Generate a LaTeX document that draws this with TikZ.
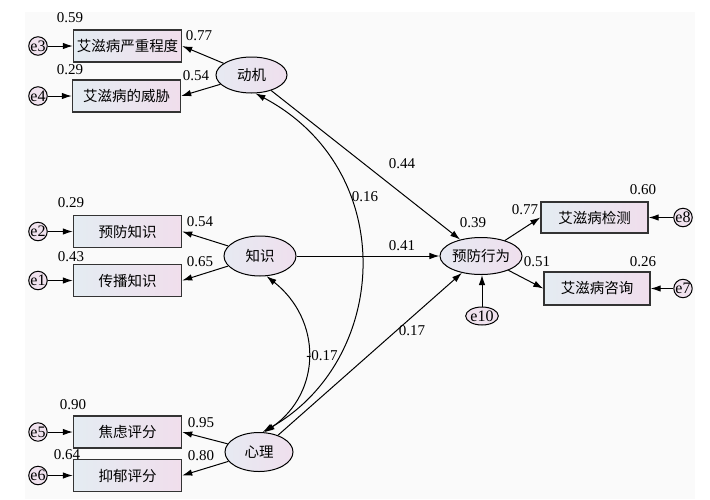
\documentclass[tikz,border=0pt]{standalone}
\usepackage{fontspec}
\setmainfont{Liberation Serif}
\newfontfamily\cjk{Noto Sans CJK SC}
\usetikzlibrary{arrows.meta,shapes.geometric}
\definecolor{bgc}{RGB}{250,250,250}
\definecolor{boxl}{RGB}{228,236,242}
\definecolor{boxr}{RGB}{240,222,236}
\definecolor{ell}{RGB}{236,228,242}
\definecolor{errc}{RGB}{240,226,238}
\begin{document}
\begin{tikzpicture}[x=1pt,y=-1pt,
  obs/.style={draw=black!80, line width=1.4pt, left color=boxl, right color=boxr,
    minimum width=108pt, minimum height=32pt, inner sep=0pt,
    font=\cjk\fontsize{14.5}{14.5}\selectfont},
  lat/.style={ellipse, draw, line width=1pt, left color=boxl!70!ell, right color=boxr!80!ell,
    inner sep=0pt, font=\cjk\fontsize{14.5}{14.5}\selectfont},
  err/.style={circle, draw, line width=1pt, fill=errc, minimum size=15pt, inner sep=0pt,
    font=\fontsize{16}{16}\selectfont},
  num/.style={inner sep=0pt, font=\fontsize{15}{15}\selectfont},
  arr/.style={-{Latex[length=10pt,width=6.5pt]}, line width=1pt},
  cov/.style={{Latex[length=10pt,width=6.5pt]}-{Latex[length=10pt,width=6.5pt]}, line width=1pt}]
\useasboundingbox (0,0) rectangle (710,499);
\fill[bgc] (25,12) rectangle (695,499);

% observed boxes
\node[obs] (b1) at (127.5,46) {艾滋病严重程度};
\node[obs] (b2) at (126.5,96) {艾滋病的威胁};
\node[obs] (k1) at (127.5,231.5) {预防知识};
\node[obs] (k2) at (127.5,280.5) {传播知识};
\node[obs] (p1) at (127.5,432) {焦虑评分};
\node[obs] (p2) at (127.5,475.5) {抑郁评分};
\node[obs, minimum width=107pt, minimum height=31pt] (r1) at (594.5,217.5) {艾滋病检测};
\node[obs, minimum width=106pt, minimum height=33pt] (r2) at (597,288.5) {艾滋病咨询};

% latent ellipses
\node[lat, minimum width=71pt, minimum height=36pt] (dj) at (251.5,75) {动机};
\node[lat, minimum width=72pt, minimum height=40pt] (zs) at (260,256) {知识};
\node[lat, minimum width=68pt, minimum height=39pt] (xl) at (259,452) {心理};
\node[lat, minimum width=68pt, minimum height=37pt] (yf) at (481,256) {预防行为};

% error terms
\node[err] (e3) at (38,46) {e3};
\node[err] (e4) at (38,96) {e4};
\node[err] (e2) at (38,231.5) {e2};
\node[err] (e1) at (38,280.5) {e1};
\node[err] (e5) at (38,432) {e5};
\node[err] (e6) at (38,475.5) {e6};
\node[err] (e8) at (683,217.5) {e8};
\node[err] (e7) at (683,288.5) {e7};
\node[err, ellipse, minimum width=23pt, minimum height=18pt] (e10) at (482,316) {e10};

% error arrows
\draw[arr] (e3) -- (b1);
\draw[arr] (e4) -- (b2);
\draw[arr] (e2) -- (k1);
\draw[arr] (e1) -- (k2);
\draw[arr] (e5) -- (p1);
\draw[arr] (e6) -- (p2);
\draw[arr] (e8) -- (r1);
\draw[arr] (e7) -- (r2);
\draw[arr] (e10) -- (e10 |- yf.south);

% loadings
\draw[arr] (dj) -- (b1.east);
\draw[arr] (dj) -- (b2.east);
\draw[arr] (zs) -- (k1.east);
\draw[arr] (zs) -- (k2.east);
\draw[arr] (xl) -- (p1.east);
\draw[arr] (xl) -- (p2.east);
\draw[arr] (yf) -- (r1.west);
\draw[arr] (yf) -- (r2.west);

% structural paths
\draw[arr] (dj) -- (yf);
\draw[arr] (zs) -- (yf);
\draw[arr] (xl) -- (yf);

% covariances
\draw[cov] (dj.-78) .. controls (400,170) and (390,360) .. (xl.80);
\draw[cov] (zs.-72) .. controls (322,320) and (322,392) .. (xl.74);

% numbers
\node[num] at (70,18) {0.59};
\node[num] at (199,36) {0.77};
\node[num] at (70,70) {0.29};
\node[num] at (196,76) {0.54};
\node[num] at (71,203) {0.29};
\node[num] at (200,222) {0.54};
\node[num] at (71,257) {0.43};
\node[num] at (200,262) {0.65};
\node[num] at (73,405) {0.90};
\node[num] at (201,423) {0.95};
\node[num] at (67,455) {0.64};
\node[num] at (201,456) {0.80};
\node[num] at (402,164) {0.44};
\node[num] at (365,197) {0.16};
\node[num] at (402,246) {0.41};
\node[num] at (322,356) {-0.17};
\node[num] at (412,331) {0.17};
\node[num] at (473,223) {0.39};
\node[num] at (525,210) {0.77};
\node[num] at (537,262) {0.51};
\node[num] at (643,190) {0.60};
\node[num] at (643,262) {0.26};
\end{tikzpicture}
\end{document}
